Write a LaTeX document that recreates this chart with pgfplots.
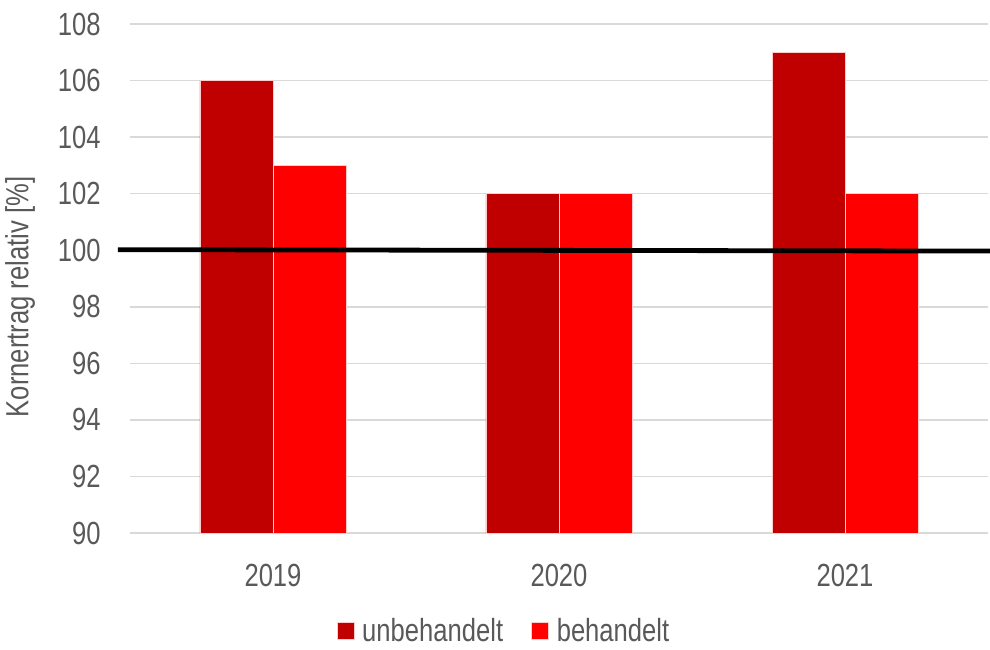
\documentclass[border=0pt]{standalone}
\usepackage{fontspec}
\setmainfont{Liberation Sans}[FakeStretch=0.8]
\usepackage{pgfplots}
\pgfplotsset{compat=1.18}
\definecolor{txt}{HTML}{595959}
\definecolor{grd}{HTML}{D9D9D9}
\definecolor{dred}{HTML}{C00000}
\definecolor{bred}{HTML}{FF0000}
\newcommand{\cf}{\fontsize{16pt}{19pt}\selectfont}
\begin{document}
\begin{tikzpicture}
\useasboundingbox (-65pt,-58pt) rectangle (430pt,266.5pt);
\begin{axis}[
  at={(0,0)}, anchor=south west,
  scale only axis, width=429pt, height=254.5pt,
  xmin=-0.5, xmax=2.5, ymin=90, ymax=108,
  xtick={0,1,2}, xticklabels={2019,2020,2021},
  ytick={90,92,...,108},
  /pgf/number format/assume math mode=true,
  axis line style={draw=none},
  major tick length=0pt,
  ymajorgrids, grid style={draw=grd, line width=0.75pt},
  ticklabel style={font=\cf, text=txt},
  yticklabel style={anchor=east, inner sep=0pt, xshift=-14.5pt},
  xticklabel style={anchor=north, inner sep=0pt, yshift=-15.5pt},
  ylabel={Kornertrag relativ [\%]},
  every axis y label/.style={at={(rel axis cs:-0.128,0.4636)}, rotate=90, anchor=center, font=\cf, text=txt},
  ybar=0pt, bar width=36.5pt,
  clip mode=individual,
  legend style={at={(rel axis cs:0.437,-0.1925)}, anchor=center, draw=none, fill=none,
    legend columns=2, font=\cf, text=txt,
    /tikz/every even column/.append style={column sep=12pt},
    legend cell align=left},
  legend image code/.code={\fill[#1] (0pt,-4.25pt) rectangle (8.5pt,4.25pt); \path (10.5pt,0pt);},
]
\addplot[fill=dred, draw=white!80!red, line width=0.3pt] coordinates {(0,106) (1,102) (2,107)};
\addplot[fill=bred, draw=white!80!red, line width=0.3pt] coordinates {(0,103) (1,102) (2,102)};
\legend{unbehandelt, behandelt}
\addplot[black, line width=2.4pt, clip=false, forget plot, sharp plot] coordinates {(-0.542,100.02) (2.507,99.97)};
\end{axis}
\end{tikzpicture}
\end{document}
